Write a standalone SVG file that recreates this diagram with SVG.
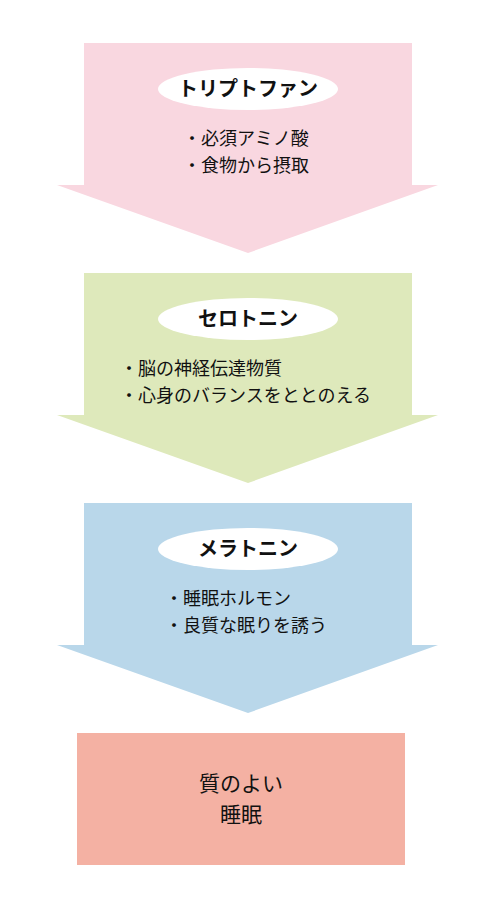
<svg xmlns="http://www.w3.org/2000/svg" width="480" height="900" viewBox="0 0 480 900">
<style>
.t{font-family:"Noto Sans CJK JP","Noto Sans",sans-serif;fill:#111}
.title{font-size:20px;font-weight:bold;text-anchor:middle}
.b{font-size:18px}
.f{font-size:21px;text-anchor:middle}
.pill{fill:#fff}
</style>
<rect width="480" height="900" fill="#fff"/>
<g id="tryptophan">
<polygon points="84,43 412,43 412,185 438,185 248,253 57,185 84,185" fill="#F9D7E0"/>
<ellipse class="pill" cx="248" cy="89" rx="90" ry="21"/>
<text class="t title" x="248" y="96">トリプトファン</text>
<text class="t b" x="183" y="145">・必須アミノ酸</text>
<text class="t b" x="183" y="172">・食物から摂取</text>
</g>
<g id="serotonin">
<polygon points="84,273 412,273 412,415 438,415 248,483 57,415 84,415" fill="#DEE9BB"/>
<ellipse class="pill" cx="248" cy="319" rx="90" ry="21"/>
<text class="t title" x="248" y="326">セロトニン</text>
<text class="t b" x="120" y="375">・脳の神経伝達物質</text>
<text class="t b" x="120" y="402">・心身のバランスをととのえる</text>
</g>
<g id="melatonin">
<polygon points="84,503 412,503 412,645 438,645 248,713 57,645 84,645" fill="#B9D7EA"/>
<ellipse class="pill" cx="248" cy="549" rx="90" ry="21"/>
<text class="t title" x="248" y="556">メラトニン</text>
<text class="t b" x="165" y="605">・睡眠ホルモン</text>
<text class="t b" x="165" y="632">・良質な眠りを誘う</text>
</g>
<g id="good-sleep">
<rect x="77" y="733" width="328" height="132" fill="#F4B1A3"/>
<text class="t f" x="241" y="791">質のよい</text>
<text class="t f" x="241" y="822">睡眠</text>
</g>
<g id="connectors"></g>
</svg>
